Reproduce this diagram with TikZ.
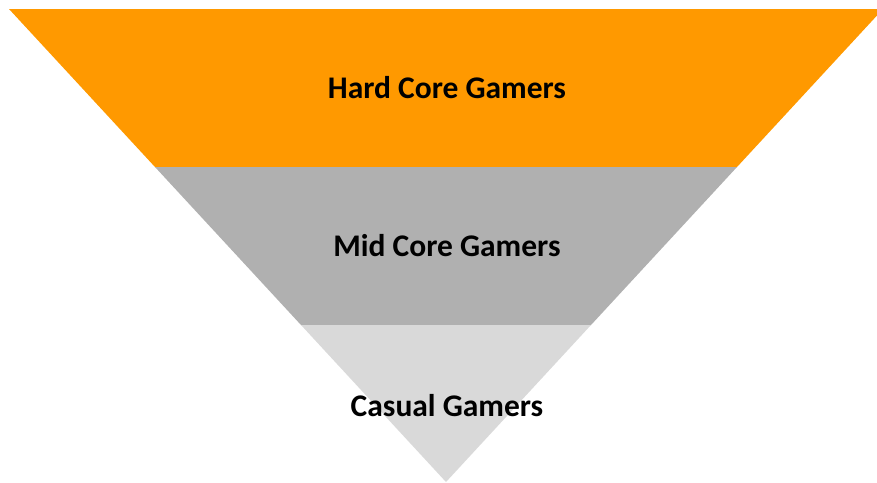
\documentclass[tikz,border=0pt]{standalone}
\usepackage{fontspec}
\setmainfont{Carlito}
\definecolor{hardc}{HTML}{FF9900}
\definecolor{midc}{HTML}{B0B0B0}
\definecolor{casc}{HTML}{D9D9D9}
\begin{document}
\begin{tikzpicture}[x=1pt,y=-1pt,
  lbl/.style={font=\fontsize{31.5}{34}\selectfont\bfseries, text=black}]
\useasboundingbox (0,0) rectangle (877,482);
\clip (0,0) rectangle (877,482);
\fill[hardc] (9,9) -- (883,9) -- (737,167) -- (155,167) -- cycle;
\fill[midc] (155,167) -- (737,167) -- (591,325) -- (301,325) -- cycle;
\fill[casc] (301,325) -- (591,325) -- (446,482) -- cycle;
\node[lbl] (hard) at (447,88) {Hard Core Gamers};
\node[lbl] (mid) at (447,246) {Mid Core Gamers};
\node[lbl] (cas) at (447,406) {Casual Gamers};
\end{tikzpicture}
\end{document}
